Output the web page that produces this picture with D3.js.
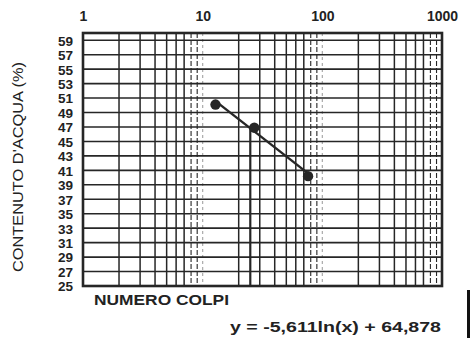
<!DOCTYPE html>
<html><head><meta charset="utf-8">
<script src="https://cdn.jsdelivr.net/npm/d3@7"></script>
<style>
html,body{margin:0;padding:0;background:#fff;}
svg{display:block;}
text{font-family:"Liberation Sans",Arial,sans-serif;fill:#222;}
</style></head>
<body><svg id="c" width="471" height="338"></svg>
<script>
// ---- data ----
const xTicks = [1, 10, 100, 1000];
const yTicks = [25,27,29,31,33,35,37,39,41,43,45,47,49,51,53,55,57,59];
const blows = [12.8, 27, 76];          // numero colpi
const water = [50.1, 46.9, 40.2];      // contenuto d'acqua (%)
const trend = [-5.611, 64.878];        // y = a ln(x) + b
const liquidLimitBlows = 25;
const xTitle = "NUMERO COLPI";
const yTitle = "CONTENUTO D'ACQUA (%)";
const eqText = "y = -5,611ln(x) + 64,878";

const svg = d3.select("#c");
const L = 83, R = 442, T = 33, B = 286;
const x = d3.scaleLog().domain([1, 1000]).range([L, R]);
const y = d3.scaleLinear().domain([25, 60]).range([B, T]);
const ink = "#262626";

// vertical grid
const minor = [];
[1, 10, 100].forEach(d => { for (let m = 2; m <= 9; m++) minor.push({v: d * m, m}); });
const g = svg.append("g");
g.selectAll("line.v").data(minor).join("line")
  .attr("x1", d => x(d.v)).attr("x2", d => x(d.v))
  .attr("y1", T).attr("y2", B)
  .attr("stroke", ink)
  .attr("stroke-width", d => d.m >= 8 ? 1.1 : 1.5)
  .attr("stroke-dasharray", d => d.m >= 8 ? "5,2" : null);
// decade lines (light)
g.selectAll("line.d").data([10, 100]).join("line")
  .attr("x1", d => x(d)).attr("x2", d => x(d))
  .attr("y1", T).attr("y2", B)
  .attr("stroke", "#aaa").attr("stroke-width", 1.2)
  .attr("stroke-dasharray", "3,3");
// horizontal grid
g.selectAll("line.h").data(yTicks.filter(v => v > 25)).join("line")
  .attr("x1", L).attr("x2", R)
  .attr("y1", d => y(d)).attr("y2", d => y(d))
  .attr("stroke", ink).attr("stroke-width", 1.6);

// frame
svg.append("rect").attr("x", L).attr("y", T).attr("width", R - L).attr("height", B - T)
  .attr("fill", "none").attr("stroke", ink).attr("stroke-width", 2.6);

// axes
const ax = svg.append("g").attr("transform", `translate(0,${T})`)
  .call(d3.axisTop(x).tickValues(xTicks).tickSize(0).tickPadding(12).tickFormat(d3.format("d")));
ax.select(".domain").remove();
ax.selectAll("text").style("font-size", "14px").style("font-weight", "bold").attr("fill", ink);

const ay = svg.append("g").attr("transform", `translate(${L},0)`)
  .call(d3.axisLeft(y).tickValues(yTicks).tickSize(0).tickPadding(10));
ay.select(".domain").remove();
ay.selectAll("text").style("font-size", "13.5px").style("font-weight", "bold").attr("fill", ink)
  .attr("dy", "0.36em");

// liquid-limit vertical line
const trendY = v => trend[0] * Math.log(v) + trend[1];
svg.append("line")
  .attr("x1", x(liquidLimitBlows)).attr("x2", x(liquidLimitBlows))
  .attr("y1", y(trendY(liquidLimitBlows))).attr("y2", B)
  .attr("stroke", ink).attr("stroke-width", 2.2);

// trend line between first and last points
const ext = d3.extent(blows);
svg.append("line")
  .attr("x1", x(ext[0])).attr("y1", y(trendY(ext[0])))
  .attr("x2", x(ext[1])).attr("y2", y(trendY(ext[1])))
  .attr("stroke", ink).attr("stroke-width", 2.4);

// points
svg.selectAll("circle.p").data(blows.map((b, i) => [b, water[i]])).join("circle")
  .attr("cx", d => x(d[0])).attr("cy", d => y(d[1])).attr("r", 5.2)
  .attr("fill", ink);

// titles
svg.append("text").attr("transform", "translate(23,167) rotate(-90)")
  .attr("text-anchor", "middle").style("font-size", "14px").style("font-weight", "500")
  .attr("textLength", 210).attr("lengthAdjust", "spacingAndGlyphs").text(yTitle);
svg.append("text").attr("x", 94).attr("y", 305)
  .style("font-size", "14px").style("font-weight", "bold")
  .attr("textLength", 135).attr("lengthAdjust", "spacingAndGlyphs").text(xTitle);
svg.append("text").attr("x", 230).attr("y", 332)
  .style("font-size", "15px").style("font-weight", "bold")
  .attr("textLength", 211).attr("lengthAdjust", "spacingAndGlyphs").text(eqText);

// scan edge
svg.append("line").attr("x1", 468.5).attr("x2", 468.5).attr("y1", 290).attr("y2", 338)
  .attr("stroke", "#111").attr("stroke-width", 3);
</script></body></html>
